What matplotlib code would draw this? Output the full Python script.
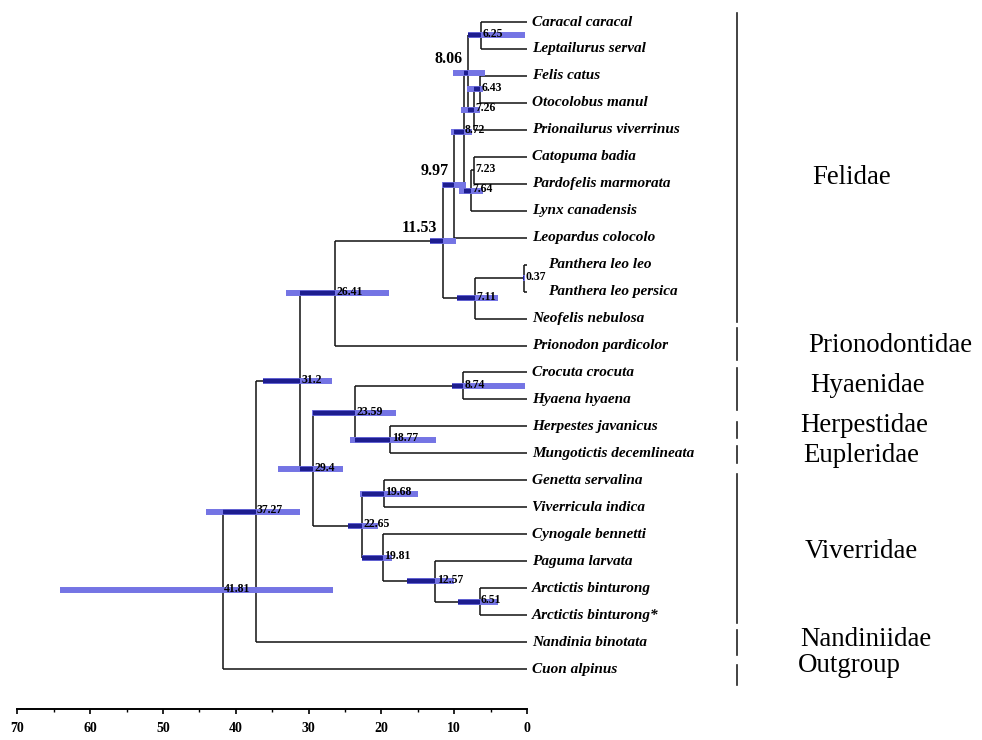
import matplotlib
matplotlib.use("Agg")
import matplotlib.pyplot as plt
from matplotlib.ticker import MultipleLocator
from matplotlib.lines import Line2D

# ---------------- data ----------------
leaves = ["Caracal caracal", "Leptailurus serval", "Felis catus", "Otocolobus manul",
          "Prionailurus viverrinus", "Catopuma badia", "Pardofelis marmorata",
          "Lynx canadensis", "Leopardus colocolo", "Panthera leo leo",
          "Panthera leo persica", "Neofelis nebulosa", "Prionodon pardicolor",
          "Crocuta crocuta", "Hyaena hyaena", "Herpestes javanicus",
          "Mungotictis decemlineata", "Genetta servalina", "Viverricula indica",
          "Cynogale bennetti", "Paguma larvata", "Arctictis binturong",
          "Arctictis binturong*", "Nandinia binotata", "Cuon alpinus"]

node_ids = ["n625", "n643", "n726", "n806", "n723", "n764", "n872", "n997",
            "n037", "n711", "n1153", "n2641", "n874", "n1877", "n2359", "n1968",
            "n651", "n1257", "n1981", "n2265", "n294", "n312", "n3727", "n4181"]
node_ages = [6.25, 6.43, 7.26, 8.06, 7.23, 7.64, 8.72, 9.97,
             0.37, 7.11, 11.53, 26.41, 8.74, 18.77, 23.59, 19.68,
             6.51, 12.57, 19.81, 22.65, 29.4, 31.2, 37.27, 41.81]
node_labels = ["6.25", "6.43", "7.26", "8.06", "7.23", "7.64", "8.72", "9.97",
               "0.37", "7.11", "11.53", "26.41", "8.74", "18.77", "23.59", "19.68",
               "6.51", "12.57", "19.81", "22.65", "29.4", "31.2", "37.27", "41.81"]
node_children = [
    ("Caracal caracal", "Leptailurus serval"),
    ("Felis catus", "Otocolobus manul"),
    ("n643", "Prionailurus viverrinus"),
    ("n625", "n726"),
    ("Catopuma badia", "Pardofelis marmorata"),
    ("n723", "Lynx canadensis"),
    ("n806", "n764"),
    ("n872", "Leopardus colocolo"),
    ("Panthera leo leo", "Panthera leo persica"),
    ("n037", "Neofelis nebulosa"),
    ("n997", "n711"),
    ("n1153", "Prionodon pardicolor"),
    ("Crocuta crocuta", "Hyaena hyaena"),
    ("Herpestes javanicus", "Mungotictis decemlineata"),
    ("n874", "n1877"),
    ("Genetta servalina", "Viverricula indica"),
    ("Arctictis binturong", "Arctictis binturong*"),
    ("Paguma larvata", "n651"),
    ("Cynogale bennetti", "n1257"),
    ("n1968", "n1981"),
    ("n2359", "n2265"),
    ("n2641", "n294"),
    ("n312", "Nandinia binotata"),
    ("n3727", "Cuon alpinus"),
]
# 95% HPD intervals (Ma); None = no bar visible
hpd_low = [0.3, 6.0, 6.4, 5.8, None, 6.0, 7.5, 8.4,
           0.25, 4.0, 9.75, 19.0, 0.3, 12.5, 18.0, 15.0,
           4.0, 10.0, 18.5, 20.5, 25.3, 26.8, 31.2, 26.6]
hpd_high = [8.1, 8.2, 9.1, 10.2, None, 9.3, 10.4, 11.7,
            0.5, 9.6, 13.3, 33.1, 10.3, 24.3, 29.5, 22.9,
            9.5, 16.5, 22.6, 24.6, 34.2, 36.3, 44.1, 64.1]
bold_nodes = ["n806", "n997", "n1153"]

families = ["Felidae", "Prionodontidae", "Hyaenidae", "Herpestidae", "Eupleridae",
            "Viverridae", "Nandiniidae", "Outgroup"]

axis_ticks = [70, 60, 50, 40, 30, 20, 10, 0]

# ---------------- layout (pixels) ----------------
W, H = 982, 740
fam_text_px = [(812, 178), (808, 345), (810, 385), (800, 426), (803, 455),
               (805, 552), (800, 640), (798, 666)]
fam_line_x = 737
fam_line_span = [(13, 322), (328, 360), (368, 410), (422, 438), (446, 463),
                 (474, 623), (630, 655), (665, 685)]
label_shift_px = {"Panthera leo leo": 21, "Panthera leo persica": 21}

SERIF = ["Liberation Serif", "DejaVu Serif"]

fig = plt.figure(figsize=(W / 100, H / 100), dpi=100)
ax = fig.add_axes([17.3 / W, 31 / H, (527 - 17.3) / W, 709 / H])
ax.set_xlim(70, 0)
ax.set_ylim((709 - 22) / 26.96, -22 / 26.96)

# positions
ypos = {name: i for i, name in enumerate(leaves)}
xpos = {name: 0.0 for name in leaves}
for nid, age, ch in zip(node_ids, node_ages, node_children):
    ypos[nid] = (ypos[ch[0]] + ypos[ch[1]]) / 2.0
    xpos[nid] = age
parent_age = {}
for nid, age, ch in zip(node_ids, node_ages, node_children):
    for c in ch:
        parent_age[c] = age

LINE_C = "#111111"
LW = 1.1
# branches
for nid, age, ch in zip(node_ids, node_ages, node_children):
    y0, y1 = ypos[ch[0]], ypos[ch[1]]
    ax.plot([age, age], [y0, y1], color=LINE_C, lw=LW, solid_capstyle="butt", zorder=2)
    for c in ch:
        ax.plot([age, xpos[c]], [ypos[c], ypos[c]], color=LINE_C, lw=LW,
                solid_capstyle="butt", zorder=2)

# HPD bars
for nid, age, lo, hi in zip(node_ids, node_ages, hpd_low, hpd_high):
    if lo is None:
        continue
    y = ypos[nid]
    ax.plot([lo, hi], [y, y], color="#7474e4", lw=4.3, solid_capstyle="butt", zorder=3)
    if nid in parent_age:
        d_hi = min(hi, parent_age[nid])
        if d_hi > age:
            ax.plot([age, d_hi], [y, y], color="#1d1d8f", lw=3.2,
                    solid_capstyle="butt", zorder=4)

# node labels
for nid, age, lab in zip(node_ids, node_ages, node_labels):
    y = ypos[nid]
    if nid in bold_nodes:
        ax.annotate(lab, (age, y), xytext=(-4, 10), textcoords="offset points",
                    ha="right", va="center", fontsize=11.5, fontweight="bold",
                    family=SERIF, zorder=6, annotation_clip=False)
    else:
        ax.annotate(lab, (age, y), xytext=(1, 1), textcoords="offset points",
                    ha="left", va="center", fontsize=8.5, fontweight="bold",
                    family=SERIF, zorder=6, annotation_clip=False)

# leaf labels
for name in leaves:
    dx = label_shift_px.get(name, 5) * 0.72
    ax.annotate(name, (0, ypos[name]), xytext=(dx, 0), textcoords="offset points",
                ha="left", va="center", fontsize=11, fontstyle="italic",
                fontweight="bold", family=SERIF, zorder=6, annotation_clip=False)

# scale axis
for s in ["left", "top", "right"]:
    ax.spines[s].set_visible(False)
ax.spines["bottom"].set_linewidth(1.4)
ax.set_yticks([])
ax.set_xticks(axis_ticks)
ax.set_xticklabels([str(t) for t in axis_ticks], family=SERIF, fontweight="bold",
                   fontsize=10)
ax.xaxis.set_minor_locator(MultipleLocator(5))
ax.tick_params(axis="x", which="major", direction="out", length=3.5, width=1.2, pad=6)
ax.tick_params(axis="x", which="minor", direction="out", length=2, width=1)
ax.patch.set_alpha(0)

# family brackets and labels
for (y0, y1) in fam_line_span:
    fig.add_artist(Line2D([fam_line_x / W, fam_line_x / W], [1 - y0 / H, 1 - y1 / H],
                          color="#222222", lw=1.2))
for fam, (px, py) in zip(families, fam_text_px):
    fig.text(px / W, 1 - py / H, fam, ha="left", va="center", fontsize=19.4,
             family=SERIF)

fig.savefig("out.png", dpi=100)
